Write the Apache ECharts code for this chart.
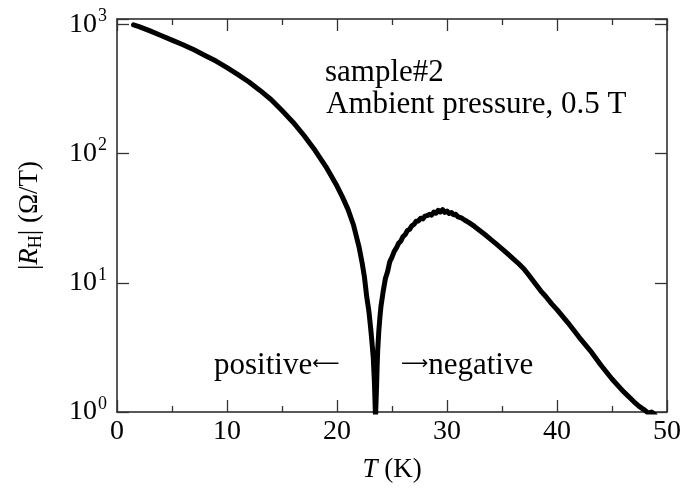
<!DOCTYPE html>
<html><head><meta charset="utf-8">
<script src="https://cdn.jsdelivr.net/npm/echarts@6/dist/echarts.min.js"></script>
<style>html,body{margin:0;padding:0;background:#fff}#c{width:688px;height:495px}</style>
</head><body><div id="c"></div>
<script>
// Temperature (K) and |R_H| (Ohm/T)
const temperatureK = [
  1.5, 2, 3, 4, 5, 6, 7, 8, 9, 10, 11, 12, 13, 14, 15, 16, 17, 18, 19, 20,
  20.5, 21, 21.5, 22, 22.3, 22.5, 22.7, 22.9, 23.0, 23.1, 23.2, 23.3, 23.35, 23.4, 23.45, 23.5,
  23.55, 23.6, 23.65, 23.7, 23.8, 23.9, 24.0, 24.2, 24.4, 24.6, 24.8, 25.0, 25.2, 25.4, 25.6, 25.8,
  26.0, 26.2, 26.4, 26.6, 26.8, 27.0, 27.2, 27.4, 27.6, 27.8, 28.0, 28.2, 28.4, 28.6, 28.8,
  29.0, 29.2, 29.4, 29.6, 29.8, 30.0, 30.2, 30.4, 30.6, 30.8, 31.0, 31.3, 31.6, 32.0, 32.5,
  33, 33.5, 34, 34.5, 35, 35.5, 36, 36.5, 37, 37.5, 38, 38.5, 39, 39.5, 40, 41, 42, 43, 44,
  45, 46, 47, 47.5, 48, 48.3, 48.6, 48.9
];
const hallAbs = [
  990, 960, 890, 820, 755, 695, 635, 575, 520, 462, 408, 358, 308, 262, 215, 175, 138, 106, 79, 56,
  46, 37, 28, 19, 14, 11, 7.8, 6.0, 5.0, 4.1, 3.3, 2.6, 2.1, 1.7, 1.25, 0.9,
  0.9, 1.6, 2.3, 3.0, 4.2, 5.4, 6.6, 8.6, 10.8, 12.2, 14.6, 15.8, 17.5, 18.6, 20.2, 21.0,
  22.8, 23.6, 25.4, 25.9, 27.6, 28.3, 29.9, 30.1, 31.6, 31.2, 32.8, 33.1, 33.9, 33.4, 35.2,
  34.6, 36.4, 35.3, 36.8, 35.1, 35.9, 34.4, 35.0, 33.6, 33.9, 32.4, 31.8, 30.6, 29.2, 27.3,
  25.3, 23.4, 21.6, 19.9, 18.3, 16.8, 15.4, 14.1, 12.8, 11.3, 9.9, 8.7, 7.8, 6.9, 6.2, 4.9, 3.8, 3.0, 2.3,
  1.8, 1.45, 1.2, 1.1, 1.03, 0.98, 1.0, 0.95
];
const xTickValues = [0, 10, 20, 30, 40, 50];
const yDecadeExponents = [0, 1, 2, 3];
const annotationLines = ['sample#2', 'Ambient pressure, 0.5 T'];
const signWords = ['positive', 'negative'];
const signArrows = ['\u27F5', '\u27F6'];

const FONT = '"Liberation Serif", "Times New Roman", serif';
const seriesData = temperatureK.map((t, i) => [t, hallAbs[i]]);

const axisLineStyle = { color: '#222', width: 1.5 };
const tickStyle = { color: '#333', width: 1.3 };

function yLabel(v) {
  const e = Math.log10(v);
  const r = Math.round(e);
  if (Math.abs(e - r) > 1e-6 || yDecadeExponents.indexOf(r) < 0) return '';
  return '{b|10}{s|' + r + '}';
}

const xBase = {
  type: 'value', min: 0, max: 50, interval: 10,
  axisLine: { show: true, onZero: false, lineStyle: axisLineStyle },
  axisTick: { show: true, inside: true, length: 12, lineStyle: tickStyle },
  minorTick: { show: true, splitNumber: 2, length: 6, lineStyle: tickStyle },
  splitLine: { show: false }, minorSplitLine: { show: false }
};
const yBase = {
  type: 'log', logBase: 10, min: 1, max: 1100,
  axisLine: { show: true, onZero: false, lineStyle: axisLineStyle },
  axisTick: { show: true, inside: true, length: 12, lineStyle: tickStyle },
  minorTick: { show: false },
  splitLine: { show: false }
};

const signRich = {
  w: { fontSize: 31, fontFamily: FONT, color: '#000' },
  a: { fontSize: 19, fontFamily: '"DejaVu Sans", sans-serif', color: '#000', padding: [0, 0, 3, 0] }
};

const option = {
  animation: false,
  backgroundColor: '#fff',
  grid: { left: 117, right: 21, top: 19, bottom: 83, containLabel: false },
  xAxis: [
    Object.assign({}, xBase, {
      position: 'bottom',
      axisLabel: { show: true, fontSize: 28, color: '#000', fontFamily: FONT, margin: 6,
        formatter: v => (xTickValues.indexOf(v) >= 0 ? String(v) : '') },
      name: '{i|T} (K)', nameLocation: 'middle', nameGap: 44,
      nameTextStyle: { fontSize: 27, color: '#000', fontFamily: FONT,
        rich: { i: { fontSize: 27, fontStyle: 'italic', fontFamily: FONT, color: '#000' } } }
    }),
    Object.assign({}, xBase, { position: 'top', axisLabel: { show: false } })
  ],
  yAxis: [
    Object.assign({}, yBase, {
      position: 'left',
      axisLabel: { show: true, margin: 10, formatter: yLabel,
        rich: {
          b: { fontSize: 28, fontFamily: FONT, color: '#000' },
          s: { fontSize: 18, fontFamily: FONT, color: '#000', padding: [0, 0, 16, 1] }
        } },
      name: '{n||}{i|R}{h|H}{n|| (\u03A9/T)}', nameLocation: 'middle', nameRotate: 90, nameGap: 72,
      nameTextStyle: { fontSize: 27, color: '#000', fontFamily: FONT,
        rich: {
          n: { fontSize: 27, fontFamily: FONT, color: '#000' },
          i: { fontSize: 27, fontStyle: 'italic', fontFamily: FONT, color: '#000' },
          h: { fontSize: 18, fontFamily: FONT, color: '#000', padding: [12, 0, 0, 0] }
        } }
    }),
    Object.assign({}, yBase, { position: 'right', axisLabel: { show: false } })
  ],
  graphic: [
    { type: 'text', left: 325, top: 57, silent: true,
      style: { text: annotationLines[0], font: '31px ' + FONT, fill: '#000' } },
    { type: 'text', left: 326, top: 89, silent: true,
      style: { text: annotationLines[1], font: '31px ' + FONT, fill: '#000' } },
    { type: 'text', left: 214, top: 350, silent: true,
      style: { text: '{w|' + signWords[0] + '}{a|' + signArrows[0] + '}', rich: signRich } },
    { type: 'text', left: 401, top: 350, silent: true,
      style: { text: '{a|' + signArrows[1] + '}{w|' + signWords[1] + '}', rich: signRich } }
  ],
  series: [{
    type: 'line', xAxisIndex: 0, yAxisIndex: 0, data: seriesData,
    showSymbol: false, symbol: 'none', smooth: false, clip: true,
    lineStyle: { color: '#000', width: 5, join: 'round', cap: 'round' }
  }]
};

const chart = echarts.init(document.getElementById('c'), null, { renderer: 'canvas' });
chart.setOption(option);
</script>
</body></html>
